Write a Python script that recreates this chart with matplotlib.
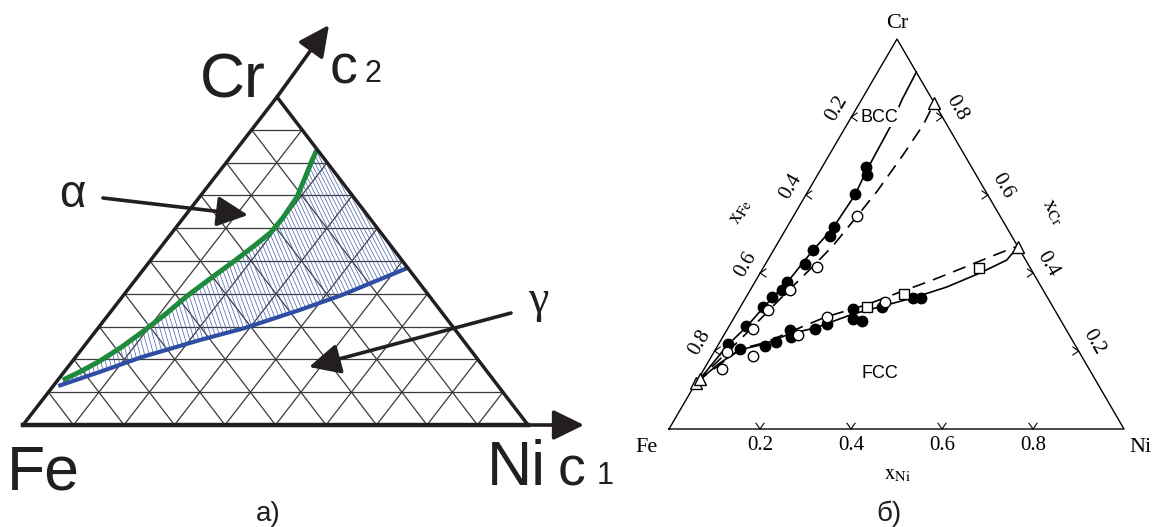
import numpy as np
import matplotlib.pyplot as plt
from matplotlib.patches import Polygon

plt.rcParams['mathtext.fontset'] = 'stix'

# ---- panel a): schematic Fe-Ni-Cr section (c1 = Ni, c2 = Cr) ----
alpha_ni = [0.010, 0.031, 0.054, 0.076, 0.096, 0.113, 0.127, 0.146, 0.166, 0.182, 0.195, 0.197, 0.193, 0.176, 0.167, 0.160]
alpha_cr = [0.137, 0.162, 0.195, 0.238, 0.290, 0.341, 0.393, 0.445, 0.497, 0.543, 0.585, 0.631, 0.695, 0.768, 0.805, 0.838]
gamma_ni = [0.010, 0.071, 0.131, 0.220, 0.291, 0.372, 0.432, 0.521]
gamma_cr = [0.119, 0.162, 0.207, 0.259, 0.296, 0.351, 0.396, 0.479]
grid_steps = np.arange(1, 10) / 10

# ---- panel б): measured and calculated phase boundaries (x_Ni, x_Cr) ----
bcc_line_ni = [0.000, 0.007, 0.021, 0.039, 0.051, 0.059, 0.071, 0.086, 0.102, 0.108, 0.102, 0.098, 0.089, 0.085]
bcc_line_cr = [0.120, 0.144, 0.215, 0.262, 0.310, 0.338, 0.374, 0.455, 0.515, 0.600, 0.664, 0.774, 0.844, 0.915]
bcc_dash_ni = [0.000, 0.029, 0.052, 0.067, 0.085, 0.105, 0.125, 0.140, 0.152, 0.162, 0.168, 0.164]
bcc_dash_cr = [0.120, 0.197, 0.258, 0.305, 0.356, 0.410, 0.470, 0.546, 0.610, 0.700, 0.780, 0.836]
fcc_line_ni = [0.000, 0.027, 0.054, 0.101, 0.143, 0.191, 0.257, 0.311, 0.367, 0.428, 0.483, 0.525, 0.533]
fcc_line_cr = [0.120, 0.169, 0.203, 0.218, 0.244, 0.259, 0.295, 0.315, 0.336, 0.364, 0.400, 0.433, 0.467]
fcc_dash_ni = [0.000, 0.054, 0.101, 0.141, 0.200, 0.273, 0.337, 0.383, 0.434, 0.484, 0.531]
fcc_dash_cr = [0.120, 0.205, 0.222, 0.249, 0.287, 0.318, 0.354, 0.379, 0.410, 0.441, 0.469]

bcc_fill_ni = [0.097, 0.109, 0.107, 0.103, 0.106, 0.086, 0.086, 0.070, 0.070, 0.056, 0.050, 0.038, 0.021]
bcc_fill_cr = [0.672, 0.651, 0.603, 0.518, 0.495, 0.458, 0.423, 0.377, 0.356, 0.338, 0.313, 0.264, 0.218]
bcc_open_ni = [0.139, 0.116, 0.087, 0.065, 0.057, 0.029]
bcc_open_cr = [0.546, 0.416, 0.356, 0.305, 0.256, 0.198]
fcc_fill_ni = [0.052, 0.103, 0.122, 0.138, 0.150, 0.192, 0.213, 0.250, 0.262, 0.284, 0.312, 0.367, 0.386]
fcc_fill_cr = [0.206, 0.214, 0.224, 0.254, 0.236, 0.256, 0.269, 0.308, 0.282, 0.278, 0.313, 0.336, 0.335]
fcc_open_ni = [0.039, 0.092, 0.163, 0.202, 0.311]
fcc_open_cr = [0.153, 0.186, 0.241, 0.288, 0.326]
square_ni = [0.278, 0.344, 0.474]
square_cr = [0.312, 0.345, 0.413]
tri_ni = [0.000, 0.005, 0.164, 0.533]
tri_cr = [0.117, 0.127, 0.836, 0.467]
tick_vals = [0.2, 0.4, 0.6, 0.8]

# triangle corners (Fe, Ni, Cr) in figure pixels
FE_A, NI_A, CR_A = (23, 425), (528, 425), (277, 97)
FE_B, NI_B, CR_B = (669, 429), (1124, 429), (897, 39)


def tern(ni, cr, fe, nip, crp):
    ni = np.asarray(ni, float)
    cr = np.asarray(cr, float)
    x = fe[0] + ni * (nip[0] - fe[0]) + cr * (crp[0] - fe[0])
    y = fe[1] + ni * (nip[1] - fe[1]) + cr * (crp[1] - fe[1])
    return x, y


def ta(ni, cr):
    return tern(ni, cr, FE_A, NI_A, CR_A)


def tb(ni, cr):
    return tern(ni, cr, FE_B, NI_B, CR_B)


fig = plt.figure(figsize=(11.61, 5.27), dpi=100)
ax = fig.add_axes([0, 0, 1, 1])
ax.set_xlim(0, 1161)
ax.set_ylim(527, 0)
ax.axis('off')

sans = 'Liberation Sans'
serif = 'Liberation Serif'
ink = '#231f20'

# ---------- a) ----------
for s in grid_steps:
    for seg in [([0, 1 - s], [s, s]), ([s, s], [0, 1 - s]), ([s, 0], [0, s])]:
        x, y = ta(*seg)
        ax.plot(x, y, color='#3a3a3a', lw=0.9, zorder=1)

gx, gy = ta(alpha_ni, alpha_cr)
bx, by = ta(gamma_ni, gamma_cr)
region = Polygon(np.column_stack([np.r_[gx, bx[::-1]], np.r_[gy, by[::-1]]]),
                 closed=True, facecolor='none', edgecolor='none')
ax.add_patch(region)
# tie-line hatching, fanned from a point far above the diagram
fx, fy = -145, -750
for xr in np.arange(40, 520, 4.3):
    ys = np.array([120.0, 420.0])
    xs = fx + (xr - fx) * (ys - fy) / (300 - fy)
    ln, = ax.plot(xs, ys, color='#4861b0', lw=0.5, zorder=2)
    ln.set_clip_path(region)

ax.plot(gx, gy, color='#1e8a3c', lw=3.6, solid_capstyle='butt', zorder=3)
ax.plot(bx, by, color='#2f4ea3', lw=3.0, solid_capstyle='butt', zorder=3)

ox, oy = ta([0, 0, 1], [0, 1, 0])
ax.plot(ox, oy, color=ink, lw=2.5, zorder=4, solid_joinstyle='miter')
ax.plot([FE_A[0], NI_A[0]], [FE_A[1], NI_A[1]], color=ink, lw=3.2, zorder=4)

arrow = dict(arrowstyle='-|>,head_length=0.45,head_width=0.22', color=ink,
             lw=2.6, shrinkA=0, shrinkB=0, mutation_scale=42)
ax.annotate('', xy=(584, NI_A[1]), xytext=NI_A, arrowprops=arrow, zorder=5)
ax.annotate('', xy=(329, 25), xytext=CR_A, arrowprops=arrow, zorder=5)
ax.annotate('', xy=(248, 215), xytext=(103, 198), arrowprops=arrow, zorder=5)
ax.annotate('', xy=(309, 367), xytext=(511, 313), arrowprops=arrow, zorder=5)

ax.text(233, 98, 'Cr', fontsize=45, family=sans, color=ink, ha='center', va='baseline')
ax.text(343, 83, 'c', fontsize=40, family=sans, color=ink, ha='center', va='baseline')
ax.text(373, 82, '2', fontsize=22, family=sans, color=ink, ha='center', va='baseline')
ax.text(43, 490, 'Fe', fontsize=45, family=sans, color=ink, ha='center', va='baseline')
ax.text(516, 485, 'Ni', fontsize=45, family=sans, color=ink, ha='center', va='baseline')
ax.text(572, 485, 'c', fontsize=40, family=sans, color=ink, ha='center', va='baseline')
ax.text(605, 484, '1', fontsize=22, family=sans, color=ink, ha='center', va='baseline')
ax.text(72, 207, 'α', fontsize=33, family=sans, color=ink, ha='center', va='baseline')
ax.text(538, 312, 'γ', fontsize=33, family=serif, color=ink, ha='center', va='baseline')
ax.text(268, 521, 'а)', fontsize=20, family=sans, color=ink, ha='center', va='baseline')

# ---------- б) ----------
ox, oy = tb([0, 0, 1, 0], [0, 1, 0, 0])
ax.plot(ox, oy, color='black', lw=1.0, zorder=4)

ax.plot(*tb(bcc_line_ni, bcc_line_cr), color='black', lw=1.2, zorder=3)
ax.plot(*tb(bcc_dash_ni, bcc_dash_cr), color='black', lw=1.2, ls=(0, (8, 5)), zorder=3)
ax.plot(*tb(fcc_line_ni, fcc_line_cr), color='black', lw=1.2, zorder=3)
ax.plot(*tb(fcc_dash_ni, fcc_dash_cr), color='black', lw=1.2, ls=(0, (8, 5)), zorder=3)

for ni, cr in [(bcc_fill_ni, bcc_fill_cr), (fcc_fill_ni, fcc_fill_cr)]:
    ax.plot(*tb(ni, cr), 'o', ms=7.5, color='black', zorder=5)
for ni, cr in [(bcc_open_ni, bcc_open_cr), (fcc_open_ni, fcc_open_cr)]:
    ax.plot(*tb(ni, cr), 'o', ms=7.5, mfc='white', mec='black', mew=1.0, zorder=5)
ax.plot(*tb(square_ni, square_cr), 's', ms=6.5, mfc='white', mec='black', mew=1.0, zorder=5)
ax.plot(*tb(tri_ni, tri_cr), '^', ms=8, mfc='white', mec='black', mew=1.0, zorder=5)

# chevron ticks, open towards the inside of the triangle
sides = [
    (lambda v: tb(v, 0), (0.0, -1.0), (0, 17), 0),              # x_Ni along the base
    (lambda v: tb(0, 1 - v), (1.0, 0.0), (-0.864, -0.504), 60),  # x_Fe along Fe-Cr
    (lambda v: tb(1 - v, v), (-1.0, 0.0), (0.864, -0.504), -60),  # x_Cr along Cr-Ni
]
for pos, inward, out, rot in sides:
    for v in tick_vals:
        px, py = pos(v)
        for a in (np.radians(35), -np.radians(35)):
            dx = inward[0] * np.cos(a) - inward[1] * np.sin(a)
            dy = inward[0] * np.sin(a) + inward[1] * np.cos(a)
            ax.plot([px, px + 7 * dx], [py, py + 7 * dy], color='black', lw=0.8, zorder=4)
        if rot == 0:
            lx, ly = px, py + out[1]
        else:
            lx, ly = px + 17 * out[0], py + 17 * out[1]
        ax.text(lx, ly, f'{v:.1f}', fontsize=15, family=serif, rotation=rot,
                ha='center', va='center', rotation_mode='anchor')

fx_lbl, fy_lbl = tb(0, 0.5)
ax.text(fx_lbl - 43, fy_lbl - 23, r'$\mathrm{x}_{\mathrm{Fe}}$', fontsize=15, rotation=60,
        ha='center', va='center', rotation_mode='anchor')
cx_lbl, cy_lbl = tb(0.5, 0.5)
ax.text(cx_lbl + 43, cy_lbl - 22, r'$\mathrm{x}_{\mathrm{Cr}}$', fontsize=15, rotation=-60,
        ha='center', va='center', rotation_mode='anchor')
ax.text(897, 474, r'$\mathrm{x}_{\mathrm{Ni}}$', fontsize=15, ha='center', va='center')

ax.text(897, 28, 'Cr', fontsize=16, family=serif, ha='center', va='baseline')
ax.text(647, 452, 'Fe', fontsize=16, family=serif, ha='center', va='baseline')
ax.text(1141, 452, 'Ni', fontsize=16, family=serif, ha='center', va='baseline')
ax.text(879, 117, 'BCC', fontsize=13, family=sans, ha='center', va='center', zorder=6,
        bbox=dict(facecolor='white', edgecolor='none', pad=1))
ax.text(880, 374, 'FCC', fontsize=13, family=sans, ha='center', va='center')
ax.text(889, 521, 'б)', fontsize=20, family=sans, color=ink, ha='center', va='baseline')

fig.savefig('out.png', dpi=100)
